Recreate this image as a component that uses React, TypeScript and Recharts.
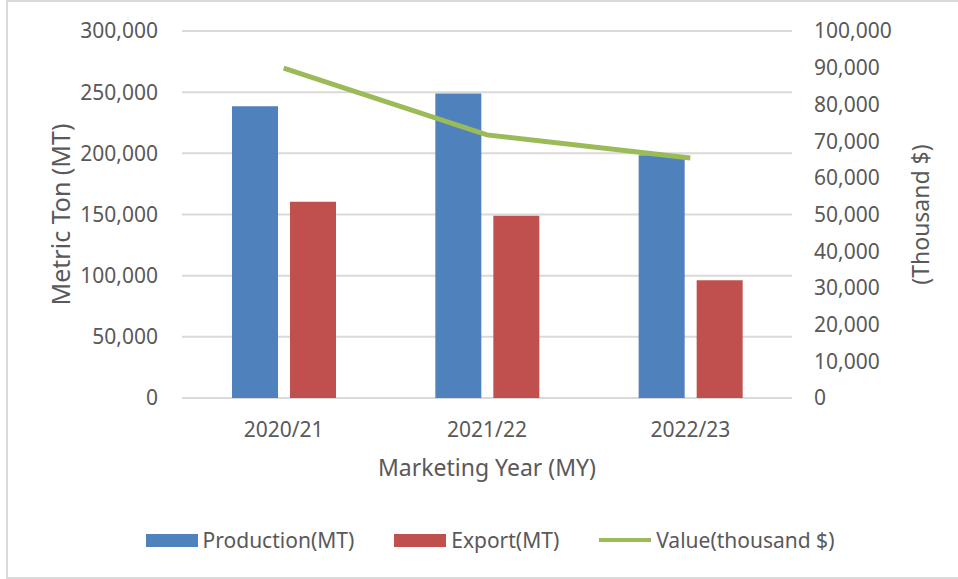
import React from 'react';
import { ComposedChart, Bar, Line, XAxis, YAxis, CartesianGrid, Legend, Label } from 'recharts';

// marketing years and series
const years = ['2020/21', '2021/22', '2022/23'];
const production = [238500, 249000, 198500];
const exports = [160500, 149000, 96300];
const value = [89900, 71700, 65400];

const leftTicks = [0, 50000, 100000, 150000, 200000, 250000, 300000];
const rightTicks = [0, 10000, 20000, 30000, 40000, 50000, 60000, 70000, 80000, 90000, 100000];

const BLUE = '#4F81BD';
const RED = '#C0504D';
const GREEN = '#9BBB59';
const TEXT = '#595959';
const FONT = '"Noto Sans", sans-serif';

const data = years.map((y, i) => ({
  year: y,
  production: production[i],
  exports: exports[i],
  value: value[i],
}));

const fmt = (v: number) => v.toLocaleString('en-US');

const legendItems = [
  { label: 'Production(MT)', color: BLUE, kind: 'box' },
  { label: 'Export(MT)', color: RED, kind: 'box' },
  { label: 'Value(thousand $)', color: GREEN, kind: 'line' },
];

const renderLegend = () => (
  <div style={{ display: 'flex', justifyContent: 'center', alignItems: 'center', fontFamily: FONT, fontSize: 21, color: TEXT, lineHeight: '28px' }}>
    {legendItems.map((it, i) => (
      <div key={it.label} style={{ display: 'flex', alignItems: 'center', marginLeft: i === 0 ? 0 : 40 }}>
        <span
          style={{
            display: 'inline-block',
            width: 52,
            height: it.kind === 'box' ? 13 : 4,
            background: it.color,
            marginRight: 5,
          }}
        />
        <span>{it.label}</span>
      </div>
    ))}
  </div>
);

// rotated axis title drawn at a fixed x, centred on the plot height
const sideTitle = (text: string, cx: number, size: number) => ({ viewBox }: any) => {
  const cy = viewBox.y + viewBox.height / 2;
  return (
    <text
      x={cx}
      y={cy}
      textAnchor="middle"
      dominantBaseline="central"
      transform={`rotate(-90 ${cx} ${cy})`}
      fill={TEXT}
      fontSize={size}
      fontFamily={FONT}
    >
      {text}
    </text>
  );
};

const App: React.FC = () => {
  return (
    <div style={{ position: 'absolute', left: 0, top: 0, width: 958, height: 579, overflow: 'hidden', background: '#fff' }}>
      {/* frame: left, top and bottom edges only show in the reference */}
      <div
        style={{
          position: 'absolute',
          left: 6,
          top: 0,
          width: 1000,
          height: 579,
          border: '2px solid #D9D9D9',
          boxSizing: 'border-box',
        }}
      />
      <div style={{ position: 'absolute', left: 0, top: 0 }}>
        <ComposedChart
          width={958}
          height={579}
          data={data}
          margin={{ top: 31, right: 0, bottom: 0, left: 0 }}
          barGap={12}
          style={{ fontFamily: FONT }}
        >
          <CartesianGrid yAxisId="left" vertical={false} stroke="#D9D9D9" strokeWidth={2} />
          <XAxis
            dataKey="year"
            axisLine={false}
            tickLine={false}
            tickSize={0}
            tickMargin={24}
            height={153}
            tick={{ fill: TEXT, fontSize: 21, fontFamily: FONT }}
          >
            <Label
              content={({ viewBox }: any) => (
                <text
                  x={viewBox.x + viewBox.width / 2}
                  y={viewBox.y + 78}
                  textAnchor="middle"
                  fill={TEXT}
                  fontSize={23}
                  fontFamily={FONT}
                >
                  Marketing Year (MY)
                </text>
              )}
            />
          </XAxis>
          <YAxis
            yAxisId="left"
            orientation="left"
            width={182}
            domain={[0, 300000]}
            ticks={leftTicks}
            tickFormatter={fmt}
            axisLine={false}
            tickLine={false}
            tickSize={0}
            tickMargin={24}
            tick={{ fill: TEXT, fontSize: 21, fontFamily: FONT }}
          >
            <Label content={sideTitle('Metric Ton (MT)', 60, 25)} />
          </YAxis>
          <YAxis
            yAxisId="right"
            orientation="right"
            width={166}
            domain={[0, 100000]}
            ticks={rightTicks}
            tickFormatter={fmt}
            axisLine={false}
            tickLine={false}
            tickSize={0}
            tickMargin={22}
            tick={{ fill: TEXT, fontSize: 21, fontFamily: FONT, textAnchor: 'start' }}
          >
            <Label content={sideTitle('(Thousand $)', 920, 23)} />
          </YAxis>
          <Bar yAxisId="left" dataKey="production" name="Production(MT)" fill={BLUE} barSize={46} isAnimationActive={false} />
          <Bar yAxisId="left" dataKey="exports" name="Export(MT)" fill={RED} barSize={46} isAnimationActive={false} />
          <Line
            yAxisId="right"
            type="linear"
            dataKey="value"
            name="Value(thousand $)"
            stroke={GREEN}
            strokeWidth={5}
            dot={false}
            activeDot={false}
            isAnimationActive={false}
          />
          <Legend
            content={renderLegend}
            wrapperStyle={{ position: 'absolute', left: 11, top: 526, width: 958 }}
          />
        </ComposedChart>
      </div>
    </div>
  );
};

export default App;
